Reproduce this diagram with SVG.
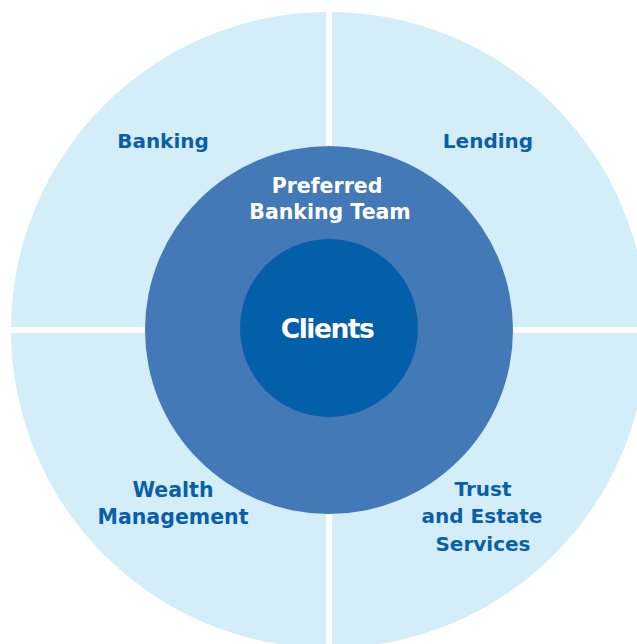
<svg xmlns="http://www.w3.org/2000/svg" width="637" height="644" viewBox="0 0 637 644">
<style>
.quad{fill:#d3edf9}
.lbl{font-family:"DejaVu Sans","Liberation Sans",sans-serif;font-weight:bold;font-size:20px;fill:#0b5fa8;text-anchor:middle}
.wlbl{font-family:"DejaVu Sans","Liberation Sans",sans-serif;font-weight:bold;font-size:20.5px;fill:#ffffff;text-anchor:middle}
</style>
<rect width="637" height="644" fill="#ffffff"/>
<g id="banking">
<path class="quad" d="M326,327 L326,12.01 A318,318 0 0 0 11.01,327 Z"/>
<text class="lbl" x="163" y="148">Banking</text>
</g>
<g id="lending">
<path class="quad" d="M332,327 L332,12.01 A318,318 0 0 1 646.99,327 Z"/>
<text class="lbl" x="488" y="148">Lending</text>
</g>
<g id="wealth-management">
<path class="quad" d="M326,333 L11.01,333 A318,318 0 0 0 326,647.99 Z"/>
<text class="lbl" x="173" y="497" style="font-size:20.5px">Wealth</text>
<text class="lbl" x="173" y="524" style="font-size:20.5px">Management</text>
</g>
<g id="trust-estate">
<path class="quad" d="M332,333 L646.99,333 A318,318 0 0 1 332,647.99 Z"/>
<text class="lbl" x="483" y="496">Trust</text>
<text class="lbl" x="482" y="523">and Estate</text>
<text class="lbl" x="483" y="551">Services</text>
</g>
<g id="preferred-banking-team">
<circle cx="329" cy="330" r="184" fill="#4479b7"/>
<text class="wlbl" x="327" y="193">Preferred</text>
<text class="wlbl" x="330" y="219">Banking Team</text>
</g>
<g id="clients">
<circle cx="329" cy="328" r="89" fill="#035fa9"/>
<text class="wlbl" x="327" y="337.5" style="font-size:26.5px;letter-spacing:-1.5px">Clients</text>
</g>
<g id="connectors"></g>
</svg>
